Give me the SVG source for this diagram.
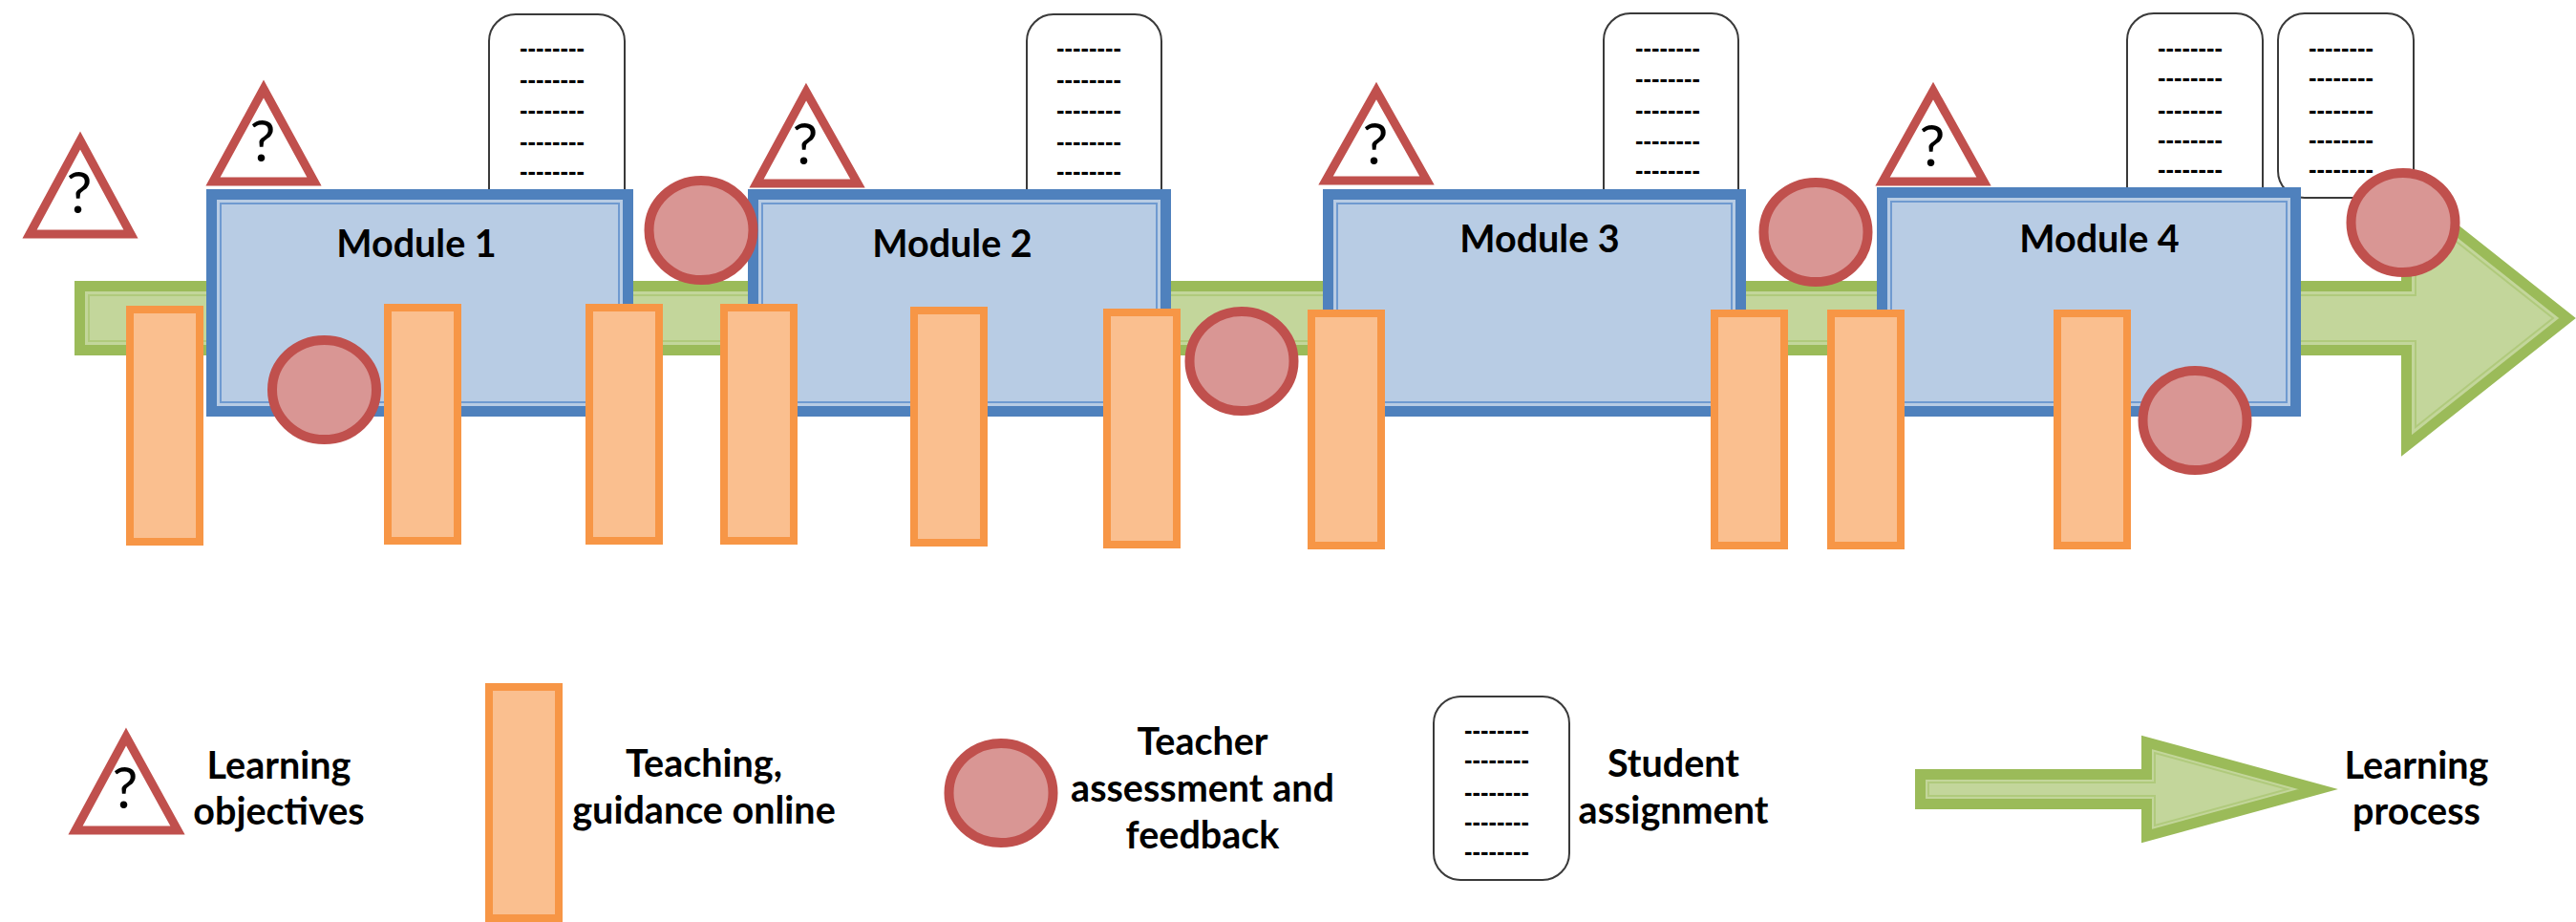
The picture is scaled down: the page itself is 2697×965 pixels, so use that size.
<svg xmlns="http://www.w3.org/2000/svg" width="2697" height="965" viewBox="0 0 2697 965">
<style>
.mod{fill:#b8cce4;stroke:#4f81bd;stroke-width:11}
.modi{fill:none;stroke:#6f9ad0;stroke-width:2}
.arr{fill:#c3d69b;stroke:#9bbb59;stroke-width:11;stroke-miterlimit:10}
.arri{fill:none;stroke:#b0ca7c;stroke-width:2;stroke-miterlimit:10}
.bar{fill:#fabf8f;stroke:#f79646;stroke-width:8}
.circ{fill:#d99694;stroke:#c0504d;stroke-width:10}
.tri{fill:#fff;stroke:#c0504d;stroke-width:9;stroke-miterlimit:10}
.doc{fill:#fff;stroke:#3a3a3a;stroke-width:2}
text{font-family:"Lato","Carlito","Liberation Sans",sans-serif;fill:#000}
.lab{font-size:39.500px;font-weight:700;text-anchor:middle}
.q{font-size:60px;font-weight:400;text-anchor:middle}
.d{font-family:"Liberation Sans",sans-serif;font-size:25.500px;font-weight:700;text-anchor:start}
</style>
<g id="connectors">
<polygon class="arr" points="83.5,299.5 2519.5,299.5 2519.5,199.5 2688,333 2519.5,466.5 2519.5,366.5 83.5,366.5"/>
<polygon class="arri" points="93,309 2529,309 2529,219 2673,333 2529,447 2529,357 93,357"/>
</g>
<g id="doc1"><rect class="doc" x="512" y="15" width="142" height="215" rx="28"/>
<text class="d" x="544" y="59">--------</text><text class="d" x="544" y="92">--------</text><text class="d" x="544" y="124">--------</text><text class="d" x="544" y="157">--------</text><text class="d" x="544" y="188">--------</text></g>
<g id="doc2"><rect class="doc" x="1075" y="15" width="141" height="215" rx="28"/>
<text class="d" x="1106" y="59">--------</text><text class="d" x="1106" y="92">--------</text><text class="d" x="1106" y="124">--------</text><text class="d" x="1106" y="157">--------</text><text class="d" x="1106" y="188">--------</text></g>
<g id="doc3"><rect class="doc" x="1679" y="14" width="141" height="215" rx="28"/>
<text class="d" x="1712" y="59">--------</text><text class="d" x="1712" y="91">--------</text><text class="d" x="1712" y="124">--------</text><text class="d" x="1712" y="156">--------</text><text class="d" x="1712" y="187">--------</text></g>
<g id="doc4"><rect class="doc" x="2227" y="14" width="142" height="215" rx="28"/>
<text class="d" x="2259" y="59">--------</text><text class="d" x="2259" y="90">--------</text><text class="d" x="2259" y="124">--------</text><text class="d" x="2259" y="155">--------</text><text class="d" x="2259" y="186">--------</text></g>
<g id="doc5"><rect class="doc" x="2385" y="14" width="142" height="193" rx="28"/>
<text class="d" x="2417" y="59">--------</text><text class="d" x="2417" y="90">--------</text><text class="d" x="2417" y="124">--------</text><text class="d" x="2417" y="155">--------</text><text class="d" x="2417" y="186">--------</text></g>
<g id="tri0"><polygon class="tri" points="84,147 137,245 31,245"/><text class="q" x="83" y="223">?</text></g>
<g id="tri1"><polygon class="tri" points="276,93 329,190 223,190"/><text class="q" x="275" y="169">?</text></g>
<g id="tri2"><polygon class="tri" points="844,96 898,192 792,192"/><text class="q" x="843" y="172">?</text></g>
<g id="tri3"><polygon class="tri" points="1441,95 1494,189 1388,189"/><text class="q" x="1440" y="172">?</text></g>
<g id="tri4"><polygon class="tri" points="2024,95 2077,190 1971,190"/><text class="q" x="2023" y="174">?</text></g>
<g id="module1"><rect class="mod" x="221.500" y="203.500" width="436" height="227"/><rect class="modi" x="231" y="213" width="417" height="208"/><text class="lab" x="436" y="269">Module 1</text></g>
<g id="module2"><rect class="mod" x="788.500" y="203.500" width="432" height="227"/><rect class="modi" x="798" y="213" width="413" height="208"/><text class="lab" x="997" y="269">Module 2</text></g>
<g id="module3"><rect class="mod" x="1390.500" y="203.500" width="432" height="227"/><rect class="modi" x="1400" y="213" width="413" height="208"/><text class="lab" x="1612" y="264">Module 3</text></g>
<g id="module4"><rect class="mod" x="1970.500" y="201.500" width="433" height="229"/><rect class="modi" x="1980" y="211" width="414" height="210"/><text class="lab" x="2198" y="264">Module 4</text></g>
<g id="bar1"><rect class="bar" x="136" y="324" width="73" height="243"/></g>
<g id="bar2"><rect class="bar" x="406" y="322" width="73" height="244"/></g>
<g id="bar3"><rect class="bar" x="617" y="322" width="73" height="244"/></g>
<g id="bar4"><rect class="bar" x="758" y="322" width="73" height="244"/></g>
<g id="bar5"><rect class="bar" x="957" y="325" width="73" height="243"/></g>
<g id="bar6"><rect class="bar" x="1159" y="327" width="73" height="243"/></g>
<g id="bar7"><rect class="bar" x="1373" y="328" width="73" height="243"/></g>
<g id="bar8"><rect class="bar" x="1795" y="328" width="73" height="243"/></g>
<g id="bar9"><rect class="bar" x="1917" y="328" width="73" height="243"/></g>
<g id="bar10"><rect class="bar" x="2154" y="328" width="73" height="243"/></g>
<g id="circle1"><ellipse class="circ" cx="339.500" cy="408" rx="54.500" ry="52"/></g>
<g id="circle2"><ellipse class="circ" cx="734" cy="241" rx="54.500" ry="52"/></g>
<g id="circle3"><ellipse class="circ" cx="1300" cy="378" rx="54.500" ry="52"/></g>
<g id="circle4"><ellipse class="circ" cx="1901" cy="243" rx="54.500" ry="52"/></g>
<g id="circle5"><ellipse class="circ" cx="2298" cy="440" rx="54.500" ry="52"/></g>
<g id="circle6"><ellipse class="circ" cx="2516" cy="233" rx="54.500" ry="52"/></g>
<g id="legend-objectives"><polygon class="tri" points="132,771 186,869 79,869"/><text class="q" x="131" y="846">?</text>
<text class="lab" x="292" y="815">Learning</text><text class="lab" x="292" y="863">objectives</text></g>
<g id="legend-teaching"><rect class="bar" x="512" y="719" width="73" height="242"/>
<text class="lab" x="737" y="813">Teaching,</text><text class="lab" x="737" y="862">guidance online</text></g>
<g id="legend-feedback"><ellipse class="circ" cx="1048" cy="830" rx="54.500" ry="52"/>
<text class="lab" x="1259" y="790">Teacher</text><text class="lab" x="1259" y="839">assessment and</text><text class="lab" x="1259" y="888">feedback</text></g>
<g id="legend-assignment"><rect class="doc" x="1501" y="729" width="142" height="192" rx="28"/>
<text class="d" x="1533" y="773">--------</text><text class="d" x="1533" y="804">--------</text><text class="d" x="1533" y="838">--------</text><text class="d" x="1533" y="869">--------</text><text class="d" x="1533" y="900">--------</text>
<text class="lab" x="1752" y="813">Student</text><text class="lab" x="1752" y="862">assignment</text></g>
<g id="legend-process"><polygon class="arr" points="2010.500,810.500 2247.500,810.500 2247.500,777 2427,826 2247.500,875 2247.500,841.500 2010.500,841.500"/>
<polygon class="arri" points="2019,819 2256,819 2256,788 2395,826 2256,864 2256,833 2019,833"/>
<text class="lab" x="2530" y="815">Learning</text><text class="lab" x="2530" y="863">process</text></g>
</svg>
